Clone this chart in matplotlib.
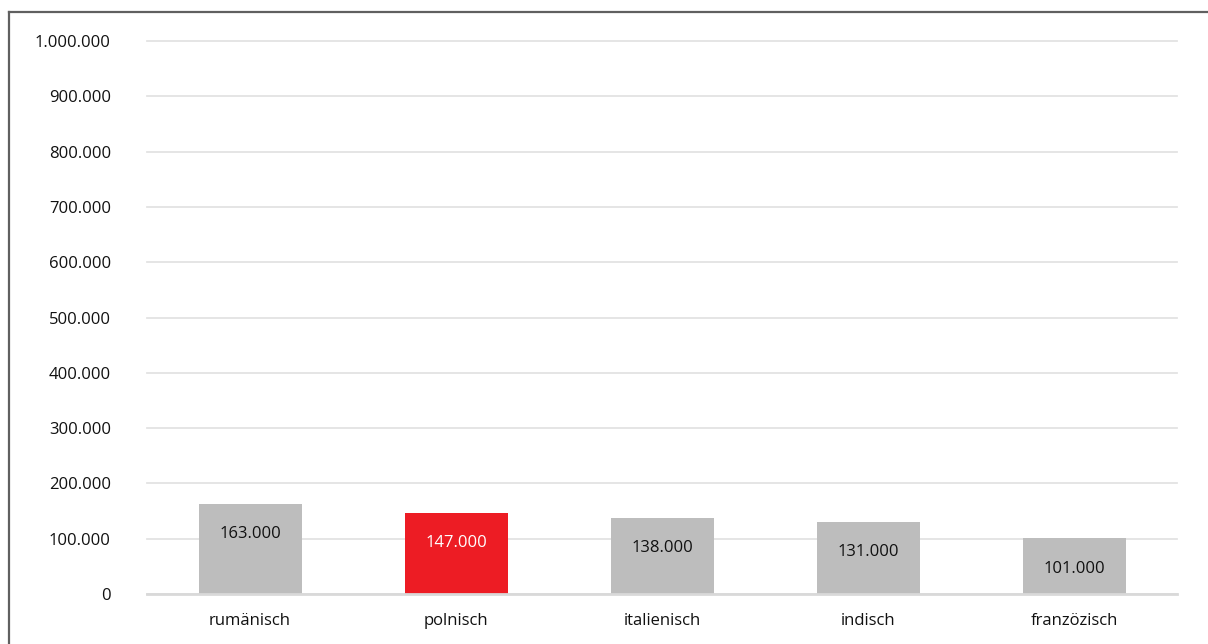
import matplotlib
matplotlib.use("Agg")
import matplotlib.pyplot as plt
from matplotlib.lines import Line2D
from matplotlib.ticker import FuncFormatter

categories = ["rumänisch", "polnisch", "italienisch", "indisch", "franzözisch"]
values = [163000, 147000, 138000, 131000, 101000]
value_labels = ["163.000", "147.000", "138.000", "131.000", "101.000"]
highlight = "polnisch"

grey = "#bdbdbd"
red = "#ed1c24"

plt.rcParams["font.family"] = ["Open Sans", "DejaVu Sans"]

fig = plt.figure(figsize=(12.08, 6.44), dpi=100)
ax = fig.add_axes([147 / 1208, 1 - 594 / 644, 1030 / 1208, (594 - 41) / 644])

colors = [red if c == highlight else grey for c in categories]
x = range(len(categories))
bars = ax.bar(x, values, width=0.5, color=colors, zorder=3)

for rect, lab, c in zip(bars, value_labels, colors):
    ax.annotate(lab, (rect.get_x() + rect.get_width() / 2, rect.get_height()),
                xytext=(0, -22), textcoords="offset points",
                ha="center", va="center", fontsize=12,
                color="white" if c == red else "#111111", zorder=4)

ax.set_xlim(-0.5, len(categories) - 0.5)
ax.set_ylim(0, 1000000)
ax.set_yticks(range(0, 1000001, 100000))
ax.yaxis.set_major_formatter(FuncFormatter(lambda v, p: f"{int(v):,}".replace(",", ".")))
ax.set_xticks(list(x))
ax.set_xticklabels(categories)
ax.tick_params(axis="y", length=0, pad=26, labelsize=12, labelcolor="#111111")
ax.tick_params(axis="x", length=0, pad=14, labelsize=12, labelcolor="#111111")

ax.grid(axis="y", color="#e3e3e3", linewidth=1.3, zorder=0)
for gl in ax.get_ygridlines():
    gl.set_clip_on(False)
for s in ["top", "right", "left"]:
    ax.spines[s].set_visible(False)
ax.spines["bottom"].set_color("#d9d9d9")
ax.spines["bottom"].set_linewidth(2)
ax.spines["bottom"].set_zorder(4)

# outer frame, open towards the right and bottom edges
fx = 8.5 / 1208
fy = 1 - 11.5 / 644
fig.add_artist(Line2D([fx, fx], [-0.1, fy], transform=fig.transFigure,
                      color="#606060", linewidth=1.6))
fig.add_artist(Line2D([fx, 1.1], [fy, fy], transform=fig.transFigure,
                      color="#606060", linewidth=1.6))

fig.savefig("out.png", dpi=100)
